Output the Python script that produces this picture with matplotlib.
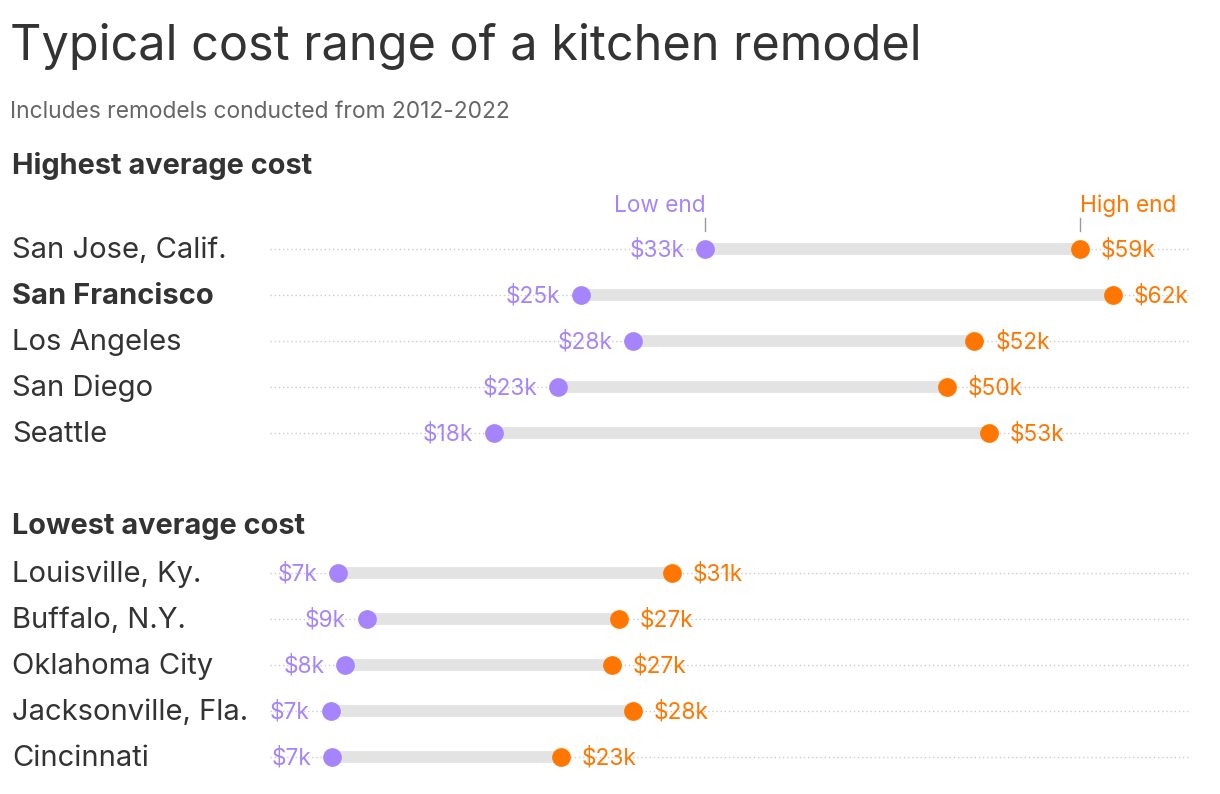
import matplotlib
matplotlib.use("Agg")
import matplotlib.pyplot as plt

# Data (thousands of dollars)
high_cities = ["San Jose, Calif.", "San Francisco", "Los Angeles", "San Diego", "Seattle"]
high_low = [33, 24.4, 28, 22.8, 18.3]
high_high = [59, 61.3, 51.7, 49.8, 52.7]
high_low_labels = ["$33k", "$25k", "$28k", "$23k", "$18k"]
high_high_labels = ["$59k", "$62k", "$52k", "$50k", "$53k"]

low_cities = ["Louisville, Ky.", "Buffalo, N.Y.", "Oklahoma City", "Jacksonville, Fla.", "Cincinnati"]
low_low = [7.5, 9.5, 8, 7, 7.1]
low_high = [30.7, 27, 26.5, 28, 23]
low_low_labels = ["$7k", "$9k", "$8k", "$7k", "$7k"]
low_high_labels = ["$31k", "$27k", "$27k", "$28k", "$23k"]

bold_city = "San Francisco"

PURPLE = "#a685fc"
ORANGE = "#ff7600"
DARK = "#333333"
FONT = "Inter"

W, H = 1220, 794
fig = plt.figure(figsize=(W / 100, H / 100), dpi=100)
ax = fig.add_axes([0, 0, 1, 1])
px_per_k = 14.4
x0_px = 230
row_px = 46
row0_px = 249
ax.set_xlim(-x0_px / px_per_k, (W - x0_px) / px_per_k)
ax.set_ylim((H - row0_px) / row_px, -row0_px / row_px)
ax.axis("off")

xmin_line = (270 - x0_px) / px_per_k
xmax_line = (1188 - x0_px) / px_per_k

cities = high_cities + low_cities
lows = high_low + low_low
highs = high_high + low_high
low_labels = high_low_labels + low_low_labels
high_labels = high_high_labels + low_high_labels
rows = list(range(5)) + [r + 7.04 for r in range(5)]

label_x = -(x0_px - 12) / px_per_k
for y, c, lo, hi, ll, hl in zip(rows, cities, lows, highs, low_labels, high_labels):
    ax.plot([xmin_line, xmax_line], [y, y], color="#cccccc", lw=1, ls=(0, (1, 2)), zorder=1)
    ax.plot([lo, hi], [y, y], color="#e3e3e3", lw=8.5, solid_capstyle="butt", zorder=2)
    ax.plot([lo], [y], "o", color=PURPLE, ms=13.5, mew=0, zorder=3)
    ax.plot([hi], [y], "o", color=ORANGE, ms=13.5, mew=0, zorder=3)
    ax.annotate(ll, (lo, y), xytext=(-15, -1), textcoords="offset points",
                ha="right", va="center", color=PURPLE, fontsize=16.3, family=FONT)
    ax.annotate(hl, (hi, y), xytext=(15, -1), textcoords="offset points",
                ha="left", va="center", color=ORANGE, fontsize=16.3, family=FONT)
    ax.annotate(c, (label_x, y), xytext=(0, -1), textcoords="offset points",
                ha="left", va="center", color=DARK, fontsize=21,
                family=FONT, fontweight="bold" if c == bold_city else "normal")

# Low end / High end annotations on first row
y_first = rows[0]
ax.plot([lows[0], lows[0]], [y_first - 0.67, y_first - 0.4], color="#999999", lw=1)
ax.plot([highs[0], highs[0]], [y_first - 0.67, y_first - 0.4], color="#999999", lw=1)
ax.text(lows[0], y_first - 0.93, "Low end", ha="right", va="center", color=PURPLE,
        fontsize=16.3, family=FONT)
ax.text(highs[0], y_first - 0.93, "High end", ha="left", va="center", color=ORANGE,
        fontsize=16.3, family=FONT)

# Titles
fig.text(10 / W, 1 - 46 / H, "Typical cost range of a kitchen remodel", ha="left", va="center",
         fontsize=35, color=DARK, family=FONT)
fig.text(10 / W, 1 - 112 / H, "Includes remodels conducted from 2012-2022", ha="left", va="center",
         fontsize=16.4, color="#666666", family=FONT)
fig.text(12 / W, 1 - 166 / H, "Highest average cost", ha="left", va="center",
         fontsize=20.8, color=DARK, family=FONT, fontweight="bold")
fig.text(12 / W, 1 - 526 / H, "Lowest average cost", ha="left", va="center",
         fontsize=20.8, color=DARK, family=FONT, fontweight="bold")

fig.savefig("out.png", dpi=100, facecolor="white")
